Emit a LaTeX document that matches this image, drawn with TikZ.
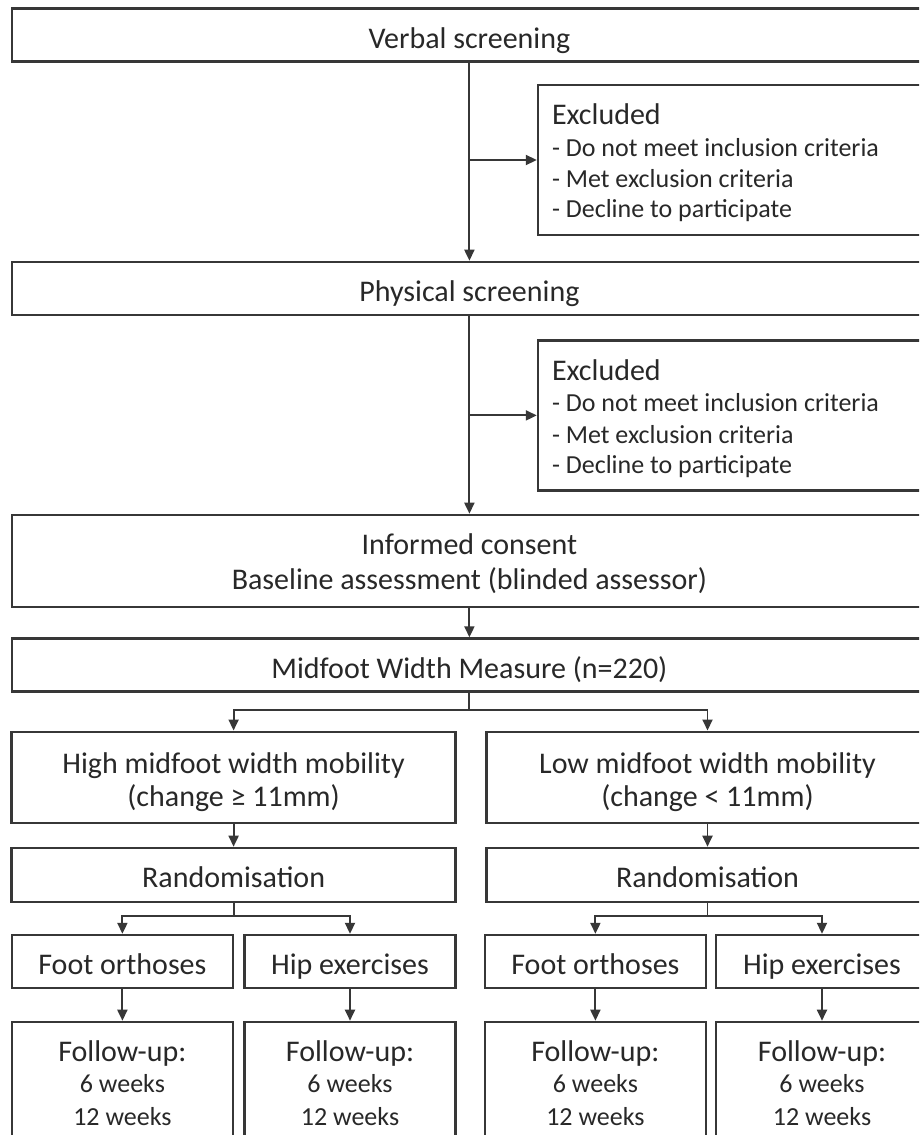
\documentclass[tikz,border=0pt]{standalone}
\usepackage{fontspec}
\setmainfont{Carlito}
\usetikzlibrary{arrows.meta,calc}
\definecolor{ink}{RGB}{40,40,40}
\definecolor{edge}{RGB}{55,55,55}

\begin{document}
\begin{tikzpicture}[x=1pt,y=-1pt,
  box/.style={draw=edge, line width=2.4pt, fill=white, inner sep=0pt,
    text=ink, font=\fontsize{30}{36}\selectfont, text height=30pt, text depth=4pt},
  big/.style={anchor=base, inner sep=0pt, text=ink, font=\fontsize{30}{36}\selectfont},
  sml/.style={anchor=base, inner sep=0pt, text=ink, font=\fontsize{26}{32}\selectfont},
  link/.style={draw=edge, line width=1.9pt},
  arr/.style={link, -{Triangle[length=11pt,width=10pt]}}
]
\useasboundingbox (0,0) rectangle (919,1135);
\fill[white] (0,0) rectangle (919,1135);
\begin{scope}
\clip (0,0) rectangle (919,1135);

% ---- screening stages ----
\node[box, minimum width=915pt, minimum height=53pt] (verbal) at (469.4,35) {Verbal screening};
\node[box, minimum width=390pt, minimum height=150pt] (excl1) at (733,160) {};
\node[big, anchor=base west] (excl1-h) at ($(excl1.west)+(15,-35.4)$) {Excluded};
\node[sml, anchor=base west] (excl1-a) at ($(excl1.west)+(15,-3.7)$) {- Do not meet inclusion criteria};
\node[sml, anchor=base west] (excl1-b) at ($(excl1.west)+(15,27.9)$) {- Met exclusion criteria};
\node[sml, anchor=base west] (excl1-c) at ($(excl1.west)+(15,57.9)$) {- Decline to participate};

\node[box, minimum width=915pt, minimum height=53pt] (physical) at (469.4,288.4) {Physical screening};
\node[box, minimum width=390pt, minimum height=150pt] (excl2) at (733,415.4) {};
\node[big, anchor=base west] (excl2-h) at ($(excl2.west)+(15,-35.4)$) {Excluded};
\node[sml, anchor=base west] (excl2-a) at ($(excl2.west)+(15,-3.7)$) {- Do not meet inclusion criteria};
\node[sml, anchor=base west] (excl2-b) at ($(excl2.west)+(15,27.9)$) {- Met exclusion criteria};
\node[sml, anchor=base west] (excl2-c) at ($(excl2.west)+(15,57.9)$) {- Decline to participate};

\node[box, minimum width=915pt, minimum height=92pt] (consent) at (469.4,560.9) {};
\node[big] (consent-a) at ($(consent.center)+(0,-6)$) {Informed consent};
\node[big] (consent-b) at ($(consent.center)+(0,29)$) {Baseline assessment (blinded assessor)};

\node[box, minimum width=915pt, minimum height=53pt] (midfoot) at (469.4,665) {Midfoot Width Measure (n=220)};

% ---- mobility groups ----
\node[box, minimum width=444pt, minimum height=91pt] (high) at (233.6,777.2) {};
\node[big] (high-a) at ($(high.center)+(0,-4)$) {High midfoot width mobility};
\node[big] (high-b) at ($(high.center)+(0,29.5)$) {(change ≥ 11mm)};
\node[box, minimum width=442pt, minimum height=91pt] (low) at (707.5,777.2) {};
\node[big] (low-a) at ($(low.center)+(0,-4)$) {Low midfoot width mobility};
\node[big] (low-b) at ($(low.center)+(0,29.5)$) {(change < 11mm)};

\node[box, minimum width=444pt, minimum height=54pt] (rand1) at (233.6,874.9) {Randomisation};
\node[box, minimum width=442pt, minimum height=54pt] (rand2) at (707.5,874.9) {Randomisation};

% ---- interventions ----
\node[box, minimum width=221pt, minimum height=53pt] (foot1) at (122.4,961.5) {Foot orthoses};
\node[box, minimum width=211pt, minimum height=53pt] (hip1) at (350,961.5) {Hip exercises};
\node[box, minimum width=221pt, minimum height=53pt] (foot2) at (595.4,961.5) {Foot orthoses};
\node[box, minimum width=212pt, minimum height=53pt] (hip2) at (822,961.5) {Hip exercises};

% ---- follow-up ----
\foreach \n/\x/\w in {fu1/122.4/221, fu2/350/211, fu3/595.4/221, fu4/822/212}{
  \node[box, minimum width=\w pt, minimum height=128pt] (\n) at (\x,1085.9) {};
  \node[big] (\n-a) at ($(\n.center)+(0,-24.2)$) {Follow-up:};
  \node[sml] (\n-b) at ($(\n.center)+(0,6.8)$) {6 weeks};
  \node[sml] (\n-c) at ($(\n.center)+(0,39.1)$) {12 weeks};
}

% ---- junction points ----
\coordinate (j1) at (verbal.south |- excl1.west);
\coordinate (j2) at (physical.south |- excl2.west);
\coordinate (j3) at ($(midfoot.south)+(0,17.5)$);
\coordinate (j4) at ($(rand1.south)+(0,13.2)$);
\coordinate (j5) at ($(rand2.south)+(0,13.2)$);

% ---- connectors ----
\draw[arr] (verbal.south) -- (physical.north);
\draw[arr] (j1) -- (excl1.west);
\draw[arr] (physical.south) -- (consent.north);
\draw[arr] (j2) -- (excl2.west);
\draw[arr] (consent.south) -- (midfoot.north);
\draw[link] (midfoot.south) -- (j3);
\draw[arr] (j3) -| (high.north);
\draw[arr] (j3) -| (low.north);
\draw[arr] (high.south) -- (rand1.north);
\draw[arr] (low.south) -- (rand2.north);
\draw[link] (rand1.south) -- (j4);
\draw[arr] (j4) -| (foot1.north);
\draw[arr] (j4) -| (hip1.north);
\draw[link] (rand2.south) -- (j5);
\draw[arr] (j5) -| (foot2.north);
\draw[arr] (j5) -| (hip2.north);
\draw[arr] (foot1.south) -- (fu1.north);
\draw[arr] (hip1.south) -- (fu2.north);
\draw[arr] (foot2.south) -- (fu3.north);
\draw[arr] (hip2.south) -- (fu4.north);
\end{scope}
\end{tikzpicture}
\end{document}
